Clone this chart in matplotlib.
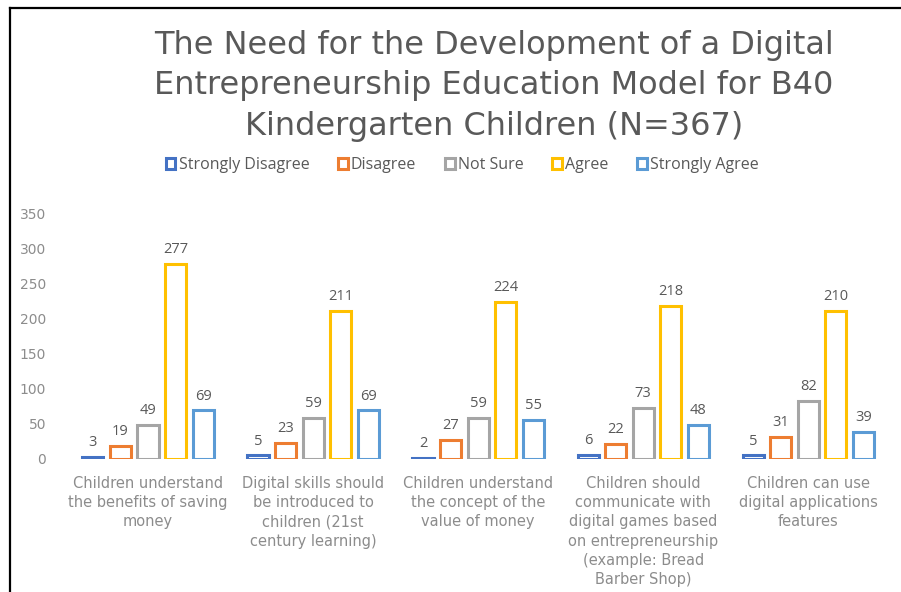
import matplotlib.pyplot as plt
from matplotlib.patches import Rectangle
from matplotlib.lines import Line2D
import numpy as np

plt.rcParams['font.family'] = ['Open Sans', 'DejaVu Sans']

categories = [
    "Children understand\nthe benefits of saving\nmoney",
    "Digital skills should\nbe introduced to\nchildren (21st\ncentury learning)",
    "Children understand\nthe concept of the\nvalue of money",
    "Children should\ncommunicate with\ndigital games based\non entrepreneurship\n(example: Bread\nBarber Shop)",
    "Children can use\ndigital applications\nfeatures",
]
series = ["Strongly Disagree", "Disagree", "Not Sure", "Agree", "Strongly Agree"]
strongly_disagree = [3, 5, 2, 6, 5]
disagree = [19, 23, 27, 22, 31]
not_sure = [49, 59, 59, 73, 82]
agree = [277, 211, 224, 218, 210]
strongly_agree = [69, 69, 55, 48, 39]
values = [strongly_disagree, disagree, not_sure, agree, strongly_agree]
colors = ["#4472C4", "#ED7D31", "#A5A5A5", "#FFC000", "#5B9BD5"]

fig = plt.figure(figsize=(9.01, 5.92), dpi=100)
ax = fig.add_axes([0.0727, 0.2247, 0.916, 0.4155])

x = np.arange(len(categories))
pitch = 0.167
width = 0.128
for j, (name, vals, col) in enumerate(zip(series, values, colors)):
    pos = x + (j - 2) * pitch
    ax.bar(pos, vals, width, facecolor="white", edgecolor=col,
           linewidth=2.2, label=name)
    for p, v in zip(pos, vals):
        ax.annotate(str(v), (p, v), xytext=(0, 5), textcoords="offset points",
                    ha="center", va="bottom", fontsize=10.5, color="#595959")

ax.set_xlim(-0.5, len(categories) - 0.5)
ax.set_ylim(0, 350)
ax.set_yticks(range(0, 351, 50))
ax.set_xticks(x)
ax.set_xticklabels(categories, fontsize=10.5, color="#808080", linespacing=1.36,
                   family="DejaVu Sans")
for t in ax.get_yticklabels():
    t.set_family("DejaVu Sans")
ax.tick_params(axis="both", length=0, labelsize=10, colors="#8c8c8c")
ax.tick_params(axis="x", labelsize=10.5, pad=12)
ax.tick_params(axis="y", pad=14)
for s in ax.spines.values():
    s.set_visible(False)

fig.text(0.548, 0.95, "The Need for the Development of a Digital\n"
         "Entrepreneurship Education Model for B40\n"
         "Kindergarten Children (N=367)",
         ha="center", va="top", fontsize=23, color="#595959", linespacing=1.4,
         family="DejaVu Sans")

handles = [Rectangle((0, 0), 1, 1, facecolor="white", edgecolor=c, linewidth=2.2)
           for c in colors]
fig.legend(handles, series, loc="center", bbox_to_anchor=(0.513, 0.721), ncol=5,
           frameon=False, fontsize=11.5, handlelength=0.6, handleheight=0.6,
           handletextpad=0.2, columnspacing=1.8, labelcolor="#595959")

# chart border (cropped on right and bottom)
fig.add_artist(Line2D([10 / 901, 10 / 901], [0, 1 - 8 / 592], color="black",
                      linewidth=1.6, transform=fig.transFigure))
fig.add_artist(Line2D([10 / 901, 1], [1 - 8 / 592, 1 - 8 / 592], color="black",
                      linewidth=1.6, transform=fig.transFigure))

fig.savefig("out.png", dpi=100)
